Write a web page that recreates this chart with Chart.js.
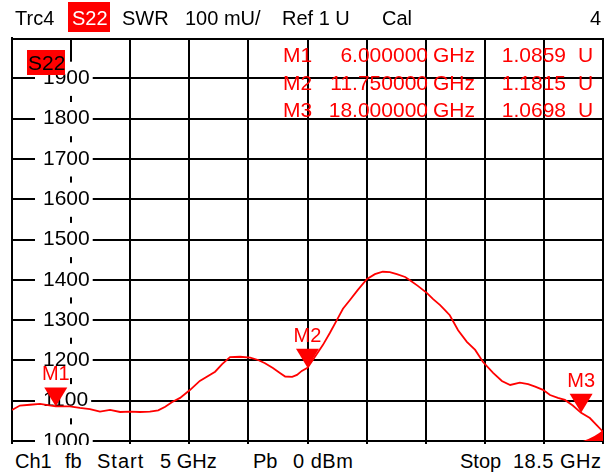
<!DOCTYPE html>
<html>
<head>
<meta charset="utf-8">
<script src="https://cdn.jsdelivr.net/npm/chart.js@4.4.1/dist/chart.umd.min.js"></script>
<style>
body{margin:0;background:#fff;font-family:"Liberation Sans",Arial,sans-serif;}
#wrap{position:relative;width:614px;height:476px;overflow:hidden;background:#fff;}
#c{position:absolute;left:0;top:0;}
.t{position:absolute;font-size:20px;line-height:20px;white-space:nowrap;color:#000;}
.r{color:#ff0000;font-size:21px;line-height:21px;}
#foot{position:absolute;left:0;top:445px;width:614px;height:31px;background:#fff;}
#hbox{position:absolute;left:68px;top:2px;width:42px;height:30px;background:#ff0000;}
#pbox{position:absolute;left:27px;top:50px;width:38px;height:25px;background:#ff0000;}
</style>
</head>
<body>
<div id="wrap">
<canvas id="c" width="614" height="476"></canvas>
<div id="foot"></div>
<div id="hbox"></div>
<div id="pbox"></div>
<div class="t" style="left:15px;top:8px">Trc4</div>
<div class="t" style="left:72px;top:8px;color:#fff">S22</div>
<div class="t" style="left:122px;top:8px">SWR</div>
<div class="t" style="left:185px;top:8px">100 mU/</div>
<div class="t" style="left:282px;top:8px">Ref 1 U</div>
<div class="t" style="left:382px;top:8px">Cal</div>
<div class="t" style="left:590px;top:8px">4</div>
<div class="t" style="left:28px;top:53px;font-size:21px">S22</div>
<div class="t" style="left:15px;top:451px">Ch1</div>
<div class="t" style="left:65px;top:451px">fb</div>
<div class="t" style="left:97px;top:451px;letter-spacing:1px">Start</div>
<div class="t" style="left:160px;top:451px">5 GHz</div>
<div class="t" style="left:253px;top:451px">Pb</div>
<div class="t" style="left:293px;top:451px;letter-spacing:0.5px">0 dBm</div>
<div class="t" style="left:460px;top:451px">Stop</div>
<div class="t" style="left:513px;top:451px;letter-spacing:0.5px">18.5 GHz</div>
<div id="table"></div>
</div>
<script>
// sweep, GHz
var freqs = [5.00, 5.18, 5.41, 5.64, 6.00, 6.32, 6.55, 6.78, 7.01, 7.24, 7.47, 7.70, 7.92, 8.15, 8.34, 8.50, 8.66, 8.84, 9.07, 9.29,
  9.64, 9.80, 9.98, 10.21, 10.44, 10.62, 10.78, 10.96, 11.12, 11.24, 11.40, 11.51, 11.62, 11.75, 11.99, 12.10, 12.26, 12.42, 12.56, 12.72,
  12.90, 13.11, 13.29, 13.47, 13.63, 13.79, 13.98, 14.09, 14.27, 14.48, 14.62, 14.78, 14.89, 15.00, 15.19, 15.39, 15.58, 15.76, 15.99, 16.19,
  16.38, 16.60, 16.79, 16.95, 17.13, 17.29, 17.47, 17.63, 17.81, 18.00, 18.20, 18.35, 18.50];
// SWR, mU
var swr = [1077, 1088, 1090, 1092, 1086, 1086, 1082, 1079, 1073, 1077, 1072, 1073, 1072, 1073, 1076, 1085, 1097, 1107, 1127, 1149,
  1172, 1191, 1208, 1209, 1207, 1201, 1193, 1181, 1169, 1160, 1159, 1164, 1174, 1181.5, 1220, 1238, 1268, 1300, 1328, 1350,
  1375, 1402, 1414, 1420, 1419, 1414, 1407, 1399, 1385, 1367, 1352, 1337, 1325, 1312, 1275, 1246, 1226, 1196, 1169, 1149,
  1139, 1145, 1141, 1135, 1127, 1114, 1107, 1102, 1088, 1069.8, 1057, 1040, 1023];

var markerNames = ['M1', 'M2', 'M3'];
var markerFreqs = [6.0, 11.75, 18.0];
var markerVals = [1085.9, 1181.5, 1069.8];

var yTickLabels = [1000, 1100, 1200, 1300, 1400, 1500, 1600, 1700, 1800, 1900];
var xStart = 5, xStop = 18.5, yMin = 1000, yMax = 2000;
var divisions = 10;

// marker readout table
var rows = '';
for (var i = 0; i < markerNames.length; i++) {
  var rowTop = 44 + i * 27.5;
  rows += '<div class="t r" style="left:283px;top:' + rowTop + 'px">' + markerNames[i] + '</div>';
  rows += '<div class="t r" style="right:186px;top:' + rowTop + 'px">' + markerFreqs[i].toFixed(6) + '</div>';
  rows += '<div class="t r" style="left:433px;top:' + rowTop + 'px">GHz</div>';
  rows += '<div class="t r" style="right:48px;top:' + rowTop + 'px">' + (markerVals[i] / 1000).toFixed(4) + '</div>';
  rows += '<div class="t r" style="left:578px;top:' + rowTop + 'px">U</div>';
}
document.getElementById('table').innerHTML = rows;

var points = [];
for (var i = 0; i < freqs.length; i++) points.push({x: freqs[i], y: swr[i]});

var vnaPlugin = {
  id: 'vna',
  beforeDatasetsDraw: function(chart) {
    var ctx = chart.ctx, a = chart.chartArea;
    ctx.save();
    ctx.strokeStyle = '#000';
    ctx.lineWidth = 2;
    ctx.beginPath();
    ctx.moveTo(a.left - 1, a.top + 1);
    ctx.lineTo(a.right + 1, a.top + 1);
    ctx.stroke();
    ctx.restore();
  },
  afterDatasetsDraw: function(chart) {
    var ctx = chart.ctx, a = chart.chartArea;
    var xs = chart.scales.x, ys = chart.scales.y;
    ctx.save();
    ctx.fillStyle = '#ff0000';
    ctx.font = '20px "Liberation Sans", Arial, sans-serif';
    ctx.textAlign = 'center';
    ctx.textBaseline = 'alphabetic';
    for (var i = 0; i < markerNames.length; i++) {
      var px = xs.getPixelForValue(markerFreqs[i]);
      var py = ys.getPixelForValue(markerVals[i]);
      ctx.beginPath();
      ctx.moveTo(px, py);
      ctx.lineTo(px - 11.5, py - 19);
      ctx.lineTo(px + 11.5, py - 19);
      ctx.closePath();
      ctx.fill();
      ctx.fillText(markerNames[i], px, py - 26);
    }
    // corner indicator
    ctx.beginPath();
    ctx.moveTo(a.right - 20, a.bottom);
    ctx.quadraticCurveTo(a.right - 8, a.bottom - 4, a.right, a.bottom - 11);
    ctx.lineTo(a.right, a.bottom);
    ctx.closePath();
    ctx.fill();
    ctx.restore();
  }
};

new Chart(document.getElementById('c'), {
  type: 'line',
  data: {
    datasets: [{
      data: points,
      borderColor: '#ff0000',
      borderWidth: 1.8,
      pointRadius: 0,
      tension: 0,
      fill: false
    }]
  },
  options: {
    responsive: false,
    animation: false,
    events: [],
    layout: {padding: {left: 12, right: 11, top: 38, bottom: 35}},
    plugins: {legend: {display: false}, tooltip: {enabled: false}},
    scales: {
      x: {
        type: 'linear',
        min: xStart,
        max: xStop,
        afterBuildTicks: function(s) {
          var t = [];
          for (var i = 0; i <= divisions; i++) t.push({value: xStart + (xStop - xStart) * i / divisions});
          s.ticks = t;
        },
        afterFit: function(s) { s.height = 0; s.paddingLeft = 0; s.paddingRight = 0; },
        ticks: {display: false},
        grid: {color: '#000', lineWidth: 2, drawTicks: true, tickLength: 3, z: -2},
        border: {color: '#000', width: 2, z: -2}
      },
      y: {
        type: 'linear',
        min: yMin,
        max: yMax,
        afterBuildTicks: function(s) {
          s.ticks = yTickLabels.map(function(v) { return {value: v}; });
        },
        afterFit: function(s) { s.width = 0; s.paddingTop = 0; s.paddingBottom = 0; },
        ticks: {
          mirror: true,
          padding: 31,
          color: '#000',
          font: {family: '"Liberation Sans", Arial, sans-serif', size: 21},
          callback: function(v) { return String(v); },
          showLabelBackdrop: true,
          backdropColor: '#fff',
          backdropPadding: {top: 4, bottom: 5, left: 8, right: 3},
          z: 0
        },
        grid: {color: '#000', lineWidth: 2, drawTicks: false, z: -1},
        border: {color: '#000', width: 2, z: -1}
      }
    }
  },
  plugins: [vnaPlugin]
});
</script>
</body>
</html>
